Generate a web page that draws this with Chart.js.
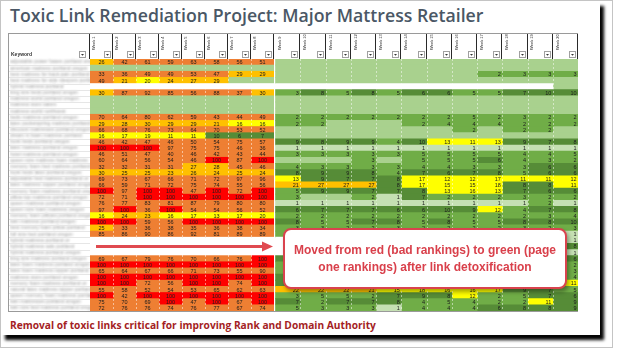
<!DOCTYPE html>
<html>
<head>
<meta charset="utf-8">
<script src="https://cdn.jsdelivr.net/npm/chart.js@4.4.0/dist/chart.umd.min.js"></script>
<style>
body{margin:0;width:624px;height:360px;background:#fff;overflow:hidden;position:relative;font-family:"Open Sans",sans-serif}
#frame{position:absolute;left:0;top:0;width:611px;height:346px;border:1px solid #c4c4c4}
#panel{position:absolute;left:1px;top:1px;width:599px;height:334px;background:#fff;box-shadow:4px 5px 3px #050505}
#title{position:absolute;left:10px;top:3px;font-weight:600;font-size:17.7px;color:#4a5765;white-space:nowrap}
#boxA{position:absolute;left:8px;top:33px}
#boxB{position:absolute;left:274px;top:33px}
#callout{position:absolute;left:283px;top:228px;width:280px;height:57px;background:#fff;border:2px solid #d9434e;border-radius:8px;box-shadow:2px 3px 4px rgba(0,0,0,.35);display:flex;align-items:center;justify-content:center;text-align:center;font-family:"Liberation Sans",Arial,sans-serif;font-weight:bold;font-size:12px;line-height:17px;color:#d9404b}
#footer{position:absolute;left:10px;top:318px;font-weight:700;font-size:10.2px;color:#a41e24;white-space:nowrap}
</style>
</head>
<body>
<div id="frame"></div>
<div id="panel"></div>
<div id="title">Toxic Link Remediation Project: Major Mattress Retailer</div>
<div id="boxA"><canvas id="tableA" width="266" height="281"></canvas></div>
<div id="boxB"><canvas id="tableB" width="304" height="281"></canvas></div>
<div id="callout">Moved from red (bad rankings) to green (page<br>one rankings) after link detoxification</div>
<div id="footer">Removal of toxic links critical for improving Rank and Domain Authority</div>
<script>
const weeks = ['Week 1', 'Week 2', 'Week 3', 'Week 4', 'Week 5', 'Week 6', 'Week 7', 'Week 8', 'Week 9', 'Week 10',
    'Week 11', 'Week 12', 'Week 13', 'Week 14', 'Week 15', 'Week 16', 'Week 17', 'Week 18', 'Week 19', 'Week 20'];

const keywords = [
    'adjustable power bases portland oregon', 'american mattress portland oregon', 'best mattress for back pain portland',
    'best mattress for side sleepers portland', 'hybrid mattress portland', 'king size beds portland oregon',
    'mattress world portland oregon', 'mattress store salem', 'mattress world northwest', 'beds mattress portland oregon',
    'latex pocketspring mattress portland', 'discount mattresses portland oregon', 'dream in foam mattress portland',
    'bunk beds portland oregon', 'latex mattress portland oregon', 'hotel mattress portland oregon',
    'queen size mattress foam mattress', 'memory foam bed mattress portland', 'bunk beds latex portland oregon',
    'adjustable bed mattress portland or', 'latex mattress topper portland oregon', 'memory foam mattress portland oregon',
    'pillow top mattress portland oregon', 'queen mattress portland oregon', 'queen size foam mattress oregon',
    'memory foam pillows portland oregon', 'twin mattress portland oregon', 'best memory foam pillow portland',
    'full size bed portland oregon', 'hybrid mattress portland or', 'hybrid mattress sale portland',
    'hybrid mattress portland oregon', 'king size mattress portland oregon', 'latex foam mattress portland oregon',
    'latex foam mattress topper portland', 'mattress store portland oregon', 'memory foam mattress portland or',
    'natural latex mattress topper portland', 'queen memory foam mattress portland', 'twin mattresses portland oregon',
    'twin size bed mattress portland oregon'
];

// weekly ranking per keyword (null = blank row, 0 = no ranking recorded)
const ranks = [
    [26, 42, 61, 59, 63, 58, 56, 51, 0, 0, 0, 0, 0, 0, 0, 0, 0, 0, 0, 0],
    [0, 0, 0, 0, 0, 0, 0, 0, 0, 0, 0, 0, 0, 0, 0, 0, 0, 0, 0, 0],
    [33, 36, 49, 49, 53, 47, 29, 29, 0, 0, 0, 0, 0, 0, 0, 0, 2, 3, 3, 3],
    [49, 21, 20, 24, 27, 29, 0, 0, 0, 0, 0, 0, 0, 0, 0, 0, 0, 0, 0, 0],
    [null, null, null, null, null, null, null, null, null, null, null, null, null, null, null, null, null, null, null, 0],
    [30, 87, 92, 85, 56, 88, 37, 30, 3, 8, 5, 8, 5, 6, 6, 5, 5, 7, 10, 10],
    [0, 0, 0, 0, 0, 0, 0, 0, 0, 0, 0, 0, 0, 0, 0, 0, 0, 0, 0, 0],
    [0, 0, 0, 0, 0, 0, 0, 0, 0, 0, 0, 0, 0, 0, 0, 0, 0, 0, 0, 0],
    [0, 0, 0, 0, 0, 0, 0, 0, 0, 0, 0, 0, 0, 0, 0, 0, 0, 0, 0, 0],
    [70, 64, 80, 62, 59, 43, 44, 49, 2, 2, 2, 2, 2, 2, 2, 5, 2, 3, 2, 2],
    [29, 28, 30, 29, 29, 21, 16, 16, 2, 2, 0, 0, 0, 2, 4, 4, 4, 2, 2, 2],
    [66, 68, 76, 73, 64, 70, 53, 52, 0, 0, 0, 0, 0, 0, 0, 2, 0, 2, 2, 0],
    [16, 17, 19, 11, 11, 10, 6, 7, 0, 0, 0, 0, 0, 0, 0, 0, 0, 0, 0, 0],
    [46, 42, 47, 46, 50, 54, 75, 57, 9, 8, 9, 9, 4, 10, 13, 11, 13, 9, 7, 8],
    [100, 100, 100, 97, 75, 75, 46, 36, 1, 1, 1, 1, 1, 1, 1, 1, 1, 1, 1, 1],
    [46, 51, 47, 40, 46, 42, 43, 44, 3, 3, 3, 3, 3, 5, 5, 5, 5, 4, 4, 5],
    [60, 64, 56, 54, 46, 100, 87, 100, 0, 0, 0, 3, 0, 5, 5, 5, 6, 4, 3, 2],
    [32, 32, 31, 31, 27, 28, 45, 46, 4, 3, 3, 3, 3, 4, 4, 3, 3, 3, 6, 6],
    [30, 25, 25, 23, 26, 24, 25, 24, 8, 9, 9, 8, 4, 7, 6, 7, 8, 5, 6, 6],
    [69, 73, 67, 66, 71, 72, 97, 96, 13, 9, 7, 7, 8, 17, 12, 12, 17, 11, 11, 12],
    [66, 59, 71, 72, 75, 74, 55, 56, 21, 27, 27, 27, 8, 17, 15, 15, 18, 8, 8, 11],
    [100, 97, 100, 100, 47, 100, 72, 100, 5, 9, 9, 7, 7, 8, 13, 16, 13, 7, 6, 6],
    [72, 71, 100, 100, 100, 100, 100, 100, 3, 0, 0, 2, 1, 7, 2, 2, 2, 3, 2, 2],
    [76, 77, 83, 81, 87, 79, 80, 80, 1, 1, 1, 1, 1, 1, 1, 1, 1, 1, 2, 1],
    [97, 100, 36, 100, 54, 54, 56, 52, 6, 7, 7, 7, 6, 6, 10, 9, 12, 4, 7, 8],
    [16, 24, 23, 16, 17, 13, 17, 20, 2, 2, 2, 2, 2, 2, 2, 2, 2, 2, 3, 4],
    [100, 100, 59, 56, 100, 100, 100, 100, 8, 5, 5, 7, 8, 5, 8, 5, 5, 8, 8, 10],
    [25, 33, 36, 38, 35, 36, 38, 34, 3, 3, 2, 2, 3, 2, 2, 2, 2, 3, 2, 3],
    [85, 86, 90, 86, 92, 81, 89, 89, 2, 2, 2, 2, 1, 1, 1, 1, 1, 1, 1, 1],
    [null, null, null, null, null, null, null, null, null, null, null, null, null, null, null, null, null, null, null, 1],
    [null, null, null, null, null, null, null, null, null, null, null, null, null, null, null, null, null, null, null, 8],
    [null, null, null, null, null, null, null, null, null, null, null, null, null, null, null, null, null, null, null, 1],
    [69, 67, 79, 76, 70, 66, 76, 100, 6, 6, 7, 5, 6, 6, 5, 6, 7, 6, 5, 6],
    [100, 100, 100, 100, 100, 100, 100, 100, 4, 3, 3, 2, 3, 2, 3, 3, 2, 2, 2, 2],
    [65, 64, 67, 66, 71, 73, 55, 90, 5, 4, 4, 4, 3, 3, 4, 3, 3, 3, 3, 3],
    [100, 100, 100, 100, 100, 100, 100, 100, 7, 6, 6, 5, 5, 4, 5, 4, 4, 4, 4, 4],
    [100, 100, 72, 56, 100, 100, 74, 100, 9, 9, 8, 8, 9, 9, 8, 9, 10, 9, 8, 11],
    [55, 58, 52, 54, 53, 65, 62, 63, 22, 22, 22, 21, 15, 18, 16, 16, 17, 9, 7, 5],
    [100, 42, 100, 100, 100, 100, 100, 100, 3, 5, 5, 2, 7, 9, 8, 12, 2, 5, 7, 6],
    [75, 70, 69, 100, 47, 100, 67, 100, 7, 2, 7, 7, 8, 4, 5, 4, 2, 2, 11, 9],
    [72, 76, 76, 74, 76, 77, 67, 74, 5, 3, 3, 3, 1, 4, 4, 4, 6, 8, 8, 9]
];

const arrowRow = 30;

drawTable('tableA', 0, 8, true);
drawTable('tableB', 8, 12, false);

function cellColor(v) {
    if (v === null) return '#ffffff';
    if (v === 0) return '#a9d18e';
    if (v === 1) return '#c5e0b3';
    if (v <= 5) return '#70ad47';
    if (v <= 10) return '#568c37';
    if (v <= 20) return '#ffff00';
    if (v <= 30) return '#ffc000';
    if (v < 100) return '#ee7f33';
    return '#fe0000';
}

function drawTable(id, first, count, withKeywords) {
    const ctx = document.getElementById(id).getContext('2d');
    const datasets = [];
    for (let w = first; w < first + count; w++) {
        datasets.push({
            label: weeks[w],
            data: keywords.map(() => 1),
            backgroundColor: c => cellColor(ranks[c.dataIndex][w]),
            borderWidth: 0,
            barPercentage: 1,
            categoryPercentage: 1,
            inflateAmount: 0.4,
        });
    }

    const tablePlugin = {
        id: 'table' + id,
        beforeDraw(chart) {
            // keywords are blurred in the original screenshot
            if (withKeywords) chart.ctx.filter = 'blur(0.8px)';
        },
        beforeDatasetsDraw(chart) {
            chart.ctx.filter = 'none';
        },
        afterDatasetsDraw(chart) {
            const g = chart.ctx;
            const area = chart.chartArea;
            const x = chart.scales.x;
            g.save();
            // dashed column separators
            g.strokeStyle = 'rgba(255,255,255,0.5)';
            g.lineWidth = 1;
            g.setLineDash([2, 2]);
            for (let k = 1; k < count; k++) {
                const px = Math.round(x.getPixelForValue(k)) + 0.5;
                g.beginPath();
                g.moveTo(px, area.top);
                g.lineTo(px, area.bottom);
                g.stroke();
            }
            g.setLineDash([]);
            // cell values
            g.font = '5.5px "Liberation Sans", Arial';
            g.fillStyle = '#1b1b1b';
            g.textBaseline = 'middle';
            chart.data.datasets.forEach((ds, k) => {
                const w = first + k;
                chart.getDatasetMeta(k).data.forEach((bar, r) => {
                    const v = ranks[r][w];
                    if (!v) return;
                    if (withKeywords) {
                        g.textAlign = 'center';
                        g.fillText(String(v), (bar.x + bar.base) / 2, bar.y + 0.5);
                    } else {
                        g.textAlign = 'right';
                        g.fillText(String(v), bar.x - 1.5, bar.y + 0.5);
                    }
                });
            });
            // arrow pointing to the callout
            if (withKeywords) {
                const y = chart.scales.y.getPixelForValue(arrowRow);
                const x0 = area.left + 6;
                const tip = area.right - 1;
                g.strokeStyle = '#e04a50';
                g.fillStyle = '#e04a50';
                g.lineWidth = 3;
                g.beginPath();
                g.moveTo(x0, y);
                g.lineTo(tip - 9, y);
                g.stroke();
                g.beginPath();
                g.moveTo(tip, y);
                g.lineTo(tip - 11, y - 5);
                g.lineTo(tip - 11, y + 5);
                g.closePath();
                g.fill();
            }
            g.restore();
            g.filter = 'none';
        },
        afterDraw(chart) {
            const g = chart.ctx;
            const area = chart.chartArea;
            const x = chart.scales.x;
            g.save();
            g.strokeStyle = '#2a2a2a';
            g.lineWidth = 1;
            // header column borders
            for (let k = withKeywords ? 0 : 1; k <= count; k++) {
                const px = Math.round(x.getPixelForValue(k)) - 0.5;
                g.beginPath();
                g.moveTo(px, 0);
                g.lineTo(px, area.top);
                g.stroke();
            }
            g.strokeStyle = '#9a9a9a';
            g.beginPath();
            g.moveTo(0, 0.5);
            g.lineTo(chart.width, 0.5);
            g.moveTo(0, area.bottom + 0.5);
            g.lineTo(chart.width, area.bottom + 0.5);
            g.stroke();
            // filter buttons
            const buttons = [];
            for (let k = 1; k <= count; k++) buttons.push(x.getPixelForValue(k) - 9);
            if (withKeywords) {
                buttons.push(area.left - 11);
                g.beginPath();
                g.moveTo(0.5, 0);
                g.lineTo(0.5, area.bottom);
                g.stroke();
                g.strokeStyle = '#e6e6e6';
                const y = chart.scales.y;
                for (let r = 1; r < keywords.length; r++) {
                    const py = Math.round((y.getPixelForValue(r) + y.getPixelForValue(r - 1)) / 2) + 0.5;
                    g.beginPath();
                    g.moveTo(1, py);
                    g.lineTo(area.left, py);
                    g.stroke();
                }
                g.fillStyle = '#333';
                g.font = 'bold 5px "Liberation Sans", Arial';
                g.textAlign = 'left';
                g.textBaseline = 'middle';
                g.fillText('Keyword', 3, area.top - 4);
            }
            buttons.forEach(bx => {
                const by = area.top - 8;
                g.fillStyle = '#ffffff';
                g.fillRect(Math.round(bx), by, 7, 7);
                g.strokeStyle = '#a0a0a0';
                g.strokeRect(Math.round(bx) + 0.5, by + 0.5, 6, 6);
                g.fillStyle = '#333';
                g.beginPath();
                g.moveTo(Math.round(bx) + 2, by + 3);
                g.lineTo(Math.round(bx) + 5, by + 3);
                g.lineTo(Math.round(bx) + 3.5, by + 4.7);
                g.closePath();
                g.fill();
            });
            g.restore();
        }
    };

    new Chart(ctx, {
        type: 'bar',
        data: {
            labels: keywords,
            datasets: datasets
        },
        options: {
            indexAxis: 'y',
            responsive: false,
            animation: false,
            devicePixelRatio: 1,
            layout: {
                padding: { left: withKeywords ? 2 : 0, right: 0, top: 0, bottom: 3 }
            },
            scales: {
                x: {
                    type: 'linear',
                    stacked: true,
                    min: 0,
                    max: count,
                    display: false
                },
                x2: {
                    type: 'category',
                    labels: weeks.slice(first, first + count),
                    position: 'top',
                    offset: true,
                    grid: { display: false, drawTicks: false },
                    border: { display: false },
                    ticks: {
                        z: 1,
                        autoSkip: false,
                        minRotation: 90,
                        maxRotation: 90,
                        padding: 9,
                        labelOffset: -3,
                        color: '#222',
                        font: { size: 4, family: '"Liberation Sans", Arial' }
                    },
                    afterFit: s => { s.height = 26; }
                },
                y: {
                    type: 'category',
                    stacked: true,
                    display: withKeywords,
                    grid: { display: false, drawTicks: false },
                    border: { display: false },
                    ticks: {
                        autoSkip: false,
                        crossAlign: 'far',
                        padding: 0,
                        color: '#999999',
                        font: { size: 5, family: '"Liberation Sans", Arial' }
                    },
                    afterFit: s => { s.width = withKeywords ? 80 : 0; }
                }
            },
            plugins: {
                legend: { display: false },
                title: { display: false },
                tooltip: { enabled: false }
            }
        },
        plugins: [tablePlugin]
    });
}
</script>
</body>
</html>
